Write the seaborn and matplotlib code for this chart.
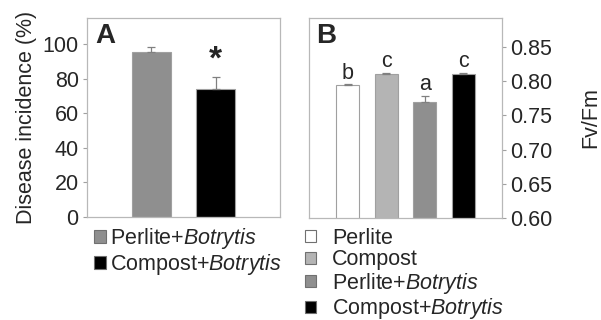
import numpy as np
import pandas as pd
import matplotlib
matplotlib.use('Agg')
import matplotlib.pyplot as plt
import seaborn as sns
from matplotlib.patches import Patch

# 데이터
a_groups = ['Perlite+$\\it{Botrytis}$', 'Compost+$\\it{Botrytis}$']
a_values = [95.5, 74.0]
a_errors = [3.0, 7.0]
a_colors = ['#8f8f8f', '#000000']

b_groups = ['Perlite', 'Compost', 'Perlite+$\\it{Botrytis}$', 'Compost+$\\it{Botrytis}$']
b_values = [0.7935, 0.8105, 0.770, 0.8105]
b_errors = [0.0015, 0.0010, 0.0080, 0.0010]
b_letters = ['b', 'c', 'a', 'c']
b_colors = ['#ffffff', '#b4b4b4', '#8f8f8f', '#000000']

sns.set_style('white')
plt.rcParams['font.family'] = ['Liberation Sans', 'DejaVu Sans']
plt.rcParams['mathtext.fontset'] = 'custom'
plt.rcParams['mathtext.rm'] = 'Liberation Sans'
plt.rcParams['mathtext.it'] = 'Liberation Sans:italic'

fig = plt.figure(figsize=(6.01, 3.2), dpi=100)
axA = fig.add_axes([87/601, 1-217/320, 193/601, 199/320])
axB = fig.add_axes([309/601, 1-218/320, 193/601, 200/320])

edge = '#a0a0a0'
fs = 15.5     # 라벨/범례
fs_tick = 15.5

# ---------------- Panel A ----------------
dfa = pd.DataFrame({'group': a_groups, 'value': a_values})
sns.barplot(data=dfa, x='group', y='value', hue='group', palette=a_colors,
            width=0.61, edgecolor=edge, linewidth=0.8, legend=False, ax=axA)
axA.errorbar(range(len(a_values)), a_values, yerr=[np.zeros(len(a_errors)), a_errors],
             fmt='none', ecolor='#808080', elinewidth=0.9, capsize=3, capthick=0.9)
axA.set_xlim(-1, 2)
axA.set_ylim(0, 115)
axA.set_yticks([0, 20, 40, 60, 80, 100])
axA.set_xticks([])
axA.set_xlabel('')
axA.set_ylabel('Disease incidence (%)', fontsize=fs, labelpad=4)
axA.tick_params(axis='y', labelsize=fs_tick, length=3, color=edge, direction='out', left=True, pad=3)
for s in axA.spines.values():
    s.set_color('#b8b8b8')
    s.set_linewidth(0.9)
axA.text(0.045, 0.975, 'A', transform=axA.transAxes, fontsize=20, fontweight='bold', va='top')
axA.text(1, a_values[1] + a_errors[1] + 1.0, '*', ha='center', va='bottom', fontsize=24, fontweight='bold')
hA = [Patch(facecolor=c, edgecolor='#707070', linewidth=0.8) for c in a_colors]
axA.legend(hA, a_groups, loc='upper left', bbox_to_anchor=(94/601, 1-226/320),
           bbox_transform=fig.transFigure, frameon=False, fontsize=fs,
           handlelength=0.55, handleheight=0.55, handletextpad=0.2, labelspacing=0.05,
           borderpad=0, borderaxespad=0)

# ---------------- Panel B ----------------
dfb = pd.DataFrame({'group': b_groups, 'value': b_values})
sns.barplot(data=dfb, x='group', y='value', hue='group', palette=b_colors,
            width=0.6, edgecolor=edge, linewidth=0.8, legend=False, ax=axB)
axB.errorbar(range(len(b_values)), b_values, yerr=[np.zeros(len(b_errors)), b_errors],
             fmt='none', ecolor='#808080', elinewidth=0.9, capsize=3, capthick=0.9)
axB.set_xlim(-1, 4)
axB.set_ylim(0.6, 0.892)
axB.set_yticks([0.60, 0.65, 0.70, 0.75, 0.80, 0.85])
axB.set_yticklabels(['%.2f' % v for v in [0.60, 0.65, 0.70, 0.75, 0.80, 0.85]])
axB.set_xticks([])
axB.set_xlabel('')
axB.yaxis.tick_right()
axB.yaxis.set_label_position('right')
axB.set_ylabel('Fv/Fm', fontsize=fs, labelpad=20)
axB.tick_params(axis='y', labelsize=fs_tick, length=3, color=edge, direction='out', right=True, left=False, pad=3)
for s in axB.spines.values():
    s.set_color('#b8b8b8')
    s.set_linewidth(0.9)
axB.text(0.035, 0.975, 'B', transform=axB.transAxes, fontsize=20, fontweight='bold', va='top')
for i, (v, e, l) in enumerate(zip(b_values, b_errors, b_letters)):
    axB.text(i, v + e + 0.001, l, ha='center', va='bottom', fontsize=fs)
hB = [Patch(facecolor=c, edgecolor='#707070', linewidth=0.8) for c in b_colors]
axB.legend(hB, b_groups, loc='upper left', bbox_to_anchor=(305/601, 1-228/320),
           bbox_transform=fig.transFigure, frameon=False, fontsize=fs,
           handlelength=0.5, handleheight=0.5, handletextpad=0.75, labelspacing=0.02,
           borderpad=0, borderaxespad=0)

fig.savefig('out.png', dpi=100)
